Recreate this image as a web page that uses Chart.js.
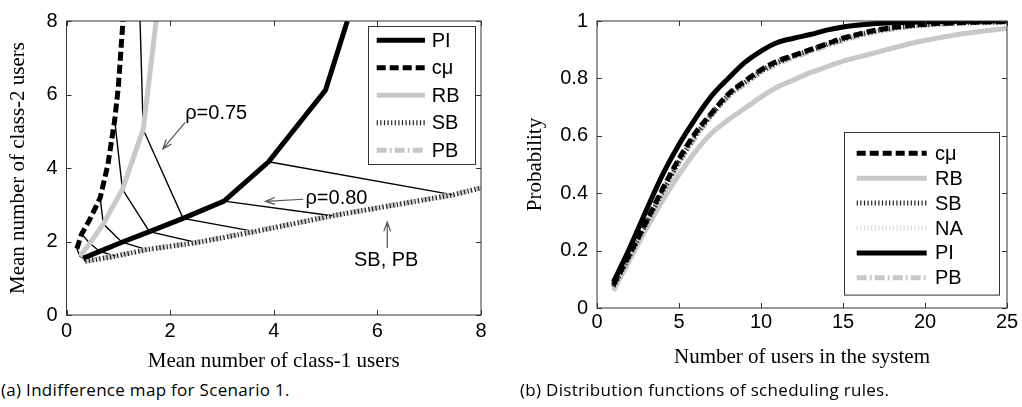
<!DOCTYPE html>
<html>
<head>
<meta charset="utf-8">
<script src="https://cdn.jsdelivr.net/npm/chart.js@4.4.1/dist/chart.umd.min.js"></script>
<style>
  body { margin: 0; background: #fff; }
  #page { position: relative; width: 1022px; height: 407px; overflow: hidden; }
  .box { position: absolute; top: 0; height: 375px; }
  .cap { position: absolute; top: 378px; font-family: "Open Sans", sans-serif; font-size: 17px; letter-spacing: 0.3px; color: #000; white-space: nowrap; }
</style>
</head>
<body>
<div id="page">
  <div class="box" style="left:0;width:500px"><canvas id="mapChart"></canvas></div>
  <div class="box" style="left:495px;width:527px"><canvas id="cdfChart"></canvas></div>
  <div class="cap" style="left:1px">(a) Indifference map for Scenario 1.</div>
  <div class="cap" style="left:520px">(b) Distribution functions of scheduling rules.</div>
</div>
<script>
// (a) mean number of class-1 / class-2 users, one curve per rule
const piCurve  = [[0.33,1.55],[0.64,1.73],[1.07,1.98],[1.6,2.27],[2.25,2.63],[3.04,3.1],[3.9,4.17],[5.0,6.12],[5.42,8]];
const cmuCurve = [[0.2,1.8],[0.29,2.2],[0.45,2.6],[0.65,3.19],[0.8,4.1],[0.93,5.3],[1.0,6.2],[1.09,8]];
const rbCurve  = [[0.26,1.6],[0.45,1.95],[0.71,2.48],[1.08,3.42],[1.48,5.05],[1.73,8]];
const sbCurve  = [[0.36,1.46],[0.95,1.6],[1.55,1.78],[2.52,1.97],[3.64,2.27],[5.13,2.7],[7.47,3.27],[8,3.46]];
const pbCurve  = [[0.36,1.47],[0.95,1.61],[1.55,1.78],[2.52,1.98],[3.64,2.28],[5.13,2.7],[7.47,3.28],[8,3.46]];

// thin lines joining the rules at the same load
const isoLines = [
  [[0.2,1.8],[0.26,1.6],[0.33,1.55],[0.36,1.46]],
  [[0.29,2.2],[0.45,1.95],[0.64,1.73],[0.95,1.6]],
  [[0.65,3.19],[0.71,2.48],[1.07,1.98],[1.55,1.78]],
  [[0.93,5.3],[1.08,3.42],[1.6,2.27],[2.52,1.97]],
  [[1.42,8],[1.48,5.05],[2.25,2.63],[3.64,2.27]],
  [[3.04,3.1],[5.13,2.7]],
  [[3.9,4.17],[7.47,3.27]]
];
const mapTicks = [0, 2, 4, 6, 8];

// (b) distribution function of the number of users in the system
const users   = [1,2,3,4,5,6,7,8,9,10,11,12,13,14,15,16,17,18,19,20,21,22,23,24,25];
const piProb  = [0.09,0.21,0.34,0.465,0.57,0.66,0.74,0.80,0.855,0.895,0.925,0.94,0.953,0.968,0.979,0.986,0.991,0.994,0.996,0.997,0.998,0.999,0.999,1.0,1.0];
const cmuProb = [0.08,0.188,0.30,0.415,0.52,0.61,0.68,0.745,0.79,0.83,0.86,0.88,0.90,0.92,0.94,0.955,0.968,0.977,0.984,0.989,0.992,0.994,0.996,0.997,0.998];
const sbProb  = [0.075,0.183,0.295,0.405,0.51,0.60,0.675,0.74,0.785,0.825,0.855,0.878,0.898,0.918,0.936,0.952,0.965,0.975,0.982,0.987,0.991,0.993,0.995,0.996,0.997];
const naProb  = [0.078,0.186,0.298,0.41,0.515,0.605,0.678,0.742,0.788,0.828,0.858,0.88,0.9,0.92,0.938,0.954,0.967,0.976,0.983,0.988,0.991,0.993,0.995,0.996,0.997];
const pbProb  = [0.07,0.178,0.29,0.40,0.505,0.595,0.67,0.735,0.78,0.82,0.85,0.873,0.893,0.913,0.932,0.948,0.962,0.972,0.98,0.985,0.989,0.992,0.994,0.995,0.996];
const rbProb  = [0.06,0.168,0.275,0.375,0.465,0.545,0.61,0.655,0.695,0.735,0.77,0.795,0.82,0.84,0.86,0.875,0.89,0.905,0.92,0.932,0.943,0.953,0.961,0.968,0.974];

const GRAY = "#c8c8c8";
const styles = {
  "PI": { borderColor: "#000", borderWidth: 5, borderDash: [] },
  "cμ": { borderColor: "#000", borderWidth: 5, borderDash: [9, 4] },
  "RB": { borderColor: GRAY, borderWidth: 5, borderDash: [] },
  "SB": { borderColor: "#222", borderWidth: 5, borderDash: [1.2, 2.4] },
  "NA": { borderColor: "#dcdcdc", borderWidth: 5, borderDash: [1.2, 2.4] },
  "PB": { borderColor: GRAY, borderWidth: 5, borderDash: [10, 3, 2, 3] }
};
const tickFont = { family: '"Liberation Sans", Arial', size: 20 };
const titleFont = { family: '"Liberation Serif", "Times New Roman"', size: 21 };

function pts(pairs) { return pairs.map(([x, y]) => ({ x, y })); }
function rule(label, data) {
  return Object.assign({ label, data, pointRadius: 0, fill: false, tension: 0, borderCapStyle: "butt" }, styles[label]);
}

// box around the plot with ticks pointing inwards
const framePlugin = {
  id: "frame",
  afterDatasetsDraw(chart) {
    const { ctx, chartArea: a, scales: { x, y } } = chart;
    ctx.save();
    ctx.strokeStyle = "#333";
    ctx.lineWidth = 1;
    ctx.setLineDash([]);
    ctx.strokeRect(a.left, a.top, a.width, a.height);
    ctx.beginPath();
    x.ticks.forEach(t => {
      const p = Math.round(x.getPixelForValue(t.value)) + 0.5;
      ctx.moveTo(p, a.bottom); ctx.lineTo(p, a.bottom - 5);
      ctx.moveTo(p, a.top); ctx.lineTo(p, a.top + 5);
    });
    y.ticks.forEach(t => {
      const p = Math.round(y.getPixelForValue(t.value)) + 0.5;
      ctx.moveTo(a.left, p); ctx.lineTo(a.left + 5, p);
      ctx.moveTo(a.right, p); ctx.lineTo(a.right - 5, p);
    });
    ctx.stroke();
    ctx.restore();
  }
};

const legendPlugin = {
  id: "ruleLegend",
  afterDraw(chart, args, o) {
    const { ctx, chartArea: a } = chart;
    const left = a.right - o.right - o.width;
    const top = o.top != null ? a.top + o.top : a.bottom - o.bottom - o.height;
    ctx.save();
    ctx.fillStyle = "#fff";
    ctx.fillRect(left, top, o.width, o.height);
    ctx.strokeStyle = "#333";
    ctx.lineWidth = 1;
    ctx.strokeRect(Math.round(left) + 0.5, Math.round(top) + 0.5, o.width, o.height);
    o.items.forEach((name, i) => {
      const ds = chart.data.datasets.find(d => d.label === name);
      const y = top + o.firstRow + i * o.rowGap;
      ctx.beginPath();
      ctx.strokeStyle = ds.borderColor;
      ctx.lineWidth = ds.borderWidth;
      ctx.setLineDash(ds.borderDash);
      ctx.moveTo(left + o.lineFrom, y);
      ctx.lineTo(left + o.lineTo, y);
      ctx.stroke();
      ctx.setLineDash([]);
      ctx.fillStyle = "#000";
      ctx.font = '20px "Liberation Sans", Arial';
      ctx.textBaseline = "middle";
      ctx.fillText(name, left + o.textX, y + 1);
    });
    ctx.restore();
  }
};

const notesPlugin = {
  id: "notes",
  afterDraw(chart, args, o) {
    const { ctx, scales: { x, y } } = chart;
    ctx.save();
    ctx.strokeStyle = "#555";
    ctx.lineWidth = 1.2;
    (o.arrows || []).forEach(([x0, y0, x1, y1]) => {
      const ax = x.getPixelForValue(x0), ay = y.getPixelForValue(y0);
      const bx = x.getPixelForValue(x1), by = y.getPixelForValue(y1);
      const ang = Math.atan2(by - ay, bx - ax);
      ctx.beginPath();
      ctx.moveTo(ax, ay); ctx.lineTo(bx, by);
      ctx.moveTo(bx - 10 * Math.cos(ang - 0.35), by - 10 * Math.sin(ang - 0.35));
      ctx.lineTo(bx, by);
      ctx.lineTo(bx - 10 * Math.cos(ang + 0.35), by - 10 * Math.sin(ang + 0.35));
      ctx.stroke();
    });
    ctx.fillStyle = "#000";
    ctx.font = '20px "Liberation Sans", Arial';
    ctx.textAlign = "center";
    ctx.textBaseline = "middle";
    (o.labels || []).forEach(l => ctx.fillText(l.text, x.getPixelForValue(l.x), y.getPixelForValue(l.y)));
    ctx.restore();
  }
};

function axis(min, max, step, title, isY, fit, pad, titlePad) {
  return {
    type: "linear", min, max,
    grid: { display: false, drawTicks: false },
    border: { display: false },
    ticks: { stepSize: step, font: tickFont, color: "#000", padding: pad, maxRotation: 0,
             callback: v => String(Number(v.toFixed(1))) },
    title: { display: true, text: title, font: titleFont, color: "#000", padding: titlePad },
    afterFit: s => { if (isY) s.width = fit; else s.height = fit; }
  };
}

// (a) indifference map
const mapSets = [
  rule("PI", pts(piCurve)),
  rule("cμ", pts(cmuCurve)),
  rule("SB", pts(sbCurve)),
  rule("PB", pts(pbCurve)),
  rule("RB", pts(rbCurve))
];
isoLines.forEach(line => mapSets.push({
  label: "", data: pts(line), borderColor: "#000", borderWidth: 1.4, pointRadius: 0, fill: false, tension: 0
}));

new Chart(document.getElementById("mapChart"), {
  type: "line",
  data: { datasets: mapSets },
  options: {
    responsive: true, maintainAspectRatio: false, animation: false, events: [],
    layout: { padding: { top: 14, right: 19, left: 0, bottom: 0 } },
    scales: {
      x: axis(mapTicks[0], mapTicks[mapTicks.length - 1], 2, "Mean number of class-1 users", false, 60, 4, { top: 0, bottom: 1.4 }),
      y: axis(mapTicks[0], mapTicks[mapTicks.length - 1], 2, "Mean number of class-2 users", true, 66.5, 9, { top: 5.4, bottom: 0 })
    },
    plugins: {
      legend: { display: false }, tooltip: { enabled: false },
      ruleLegend: { items: ["PI", "cμ", "RB", "SB", "PB"], right: 6, top: 5, width: 107, height: 138,
                    firstRow: 14.3, rowGap: 27.5, lineFrom: 8.7, lineTo: 57, textX: 63.7 },
      notes: {
        labels: [{ text: "ρ=0.75", x: 2.89, y: 5.48 }, { text: "ρ=0.80", x: 5.21, y: 3.16 }, { text: "SB, PB", x: 6.17, y: 1.49 }],
        arrows: [[2.29, 5.24, 1.86, 4.52], [4.57, 3.15, 3.84, 3.09], [6.19, 1.82, 6.19, 2.53]]
      }
    }
  },
  plugins: [framePlugin, notesPlugin, legendPlugin]
});

// (b) distribution functions
const xy = vals => users.map((u, i) => ({ x: u, y: vals[i] }));
const cdfSets = [
  rule("PI", xy(piProb)),
  rule("cμ", xy(cmuProb)),
  rule("SB", xy(sbProb)),
  rule("NA", xy(naProb)),
  rule("PB", xy(pbProb)),
  rule("RB", xy(rbProb))
];
cdfSets.forEach(d => { d.cubicInterpolationMode = "monotone"; });

new Chart(document.getElementById("cdfChart"), {
  type: "line",
  data: { datasets: cdfSets },
  options: {
    responsive: true, maintainAspectRatio: false, animation: false, events: [],
    layout: { padding: { top: 14, right: 15, left: 0, bottom: 0 } },
    scales: {
      x: axis(0, 25, 5, "Number of users in the system", false, 67, 2, { top: 0, bottom: 5.4 }),
      y: axis(0, 1, 0.2, "Probability", true, 102, 9, { top: 27.4, bottom: 0 })
    },
    plugins: {
      legend: { display: false }, tooltip: { enabled: false },
      ruleLegend: { items: ["cμ", "RB", "SB", "NA", "PI", "PB"], right: 8, bottom: 13.7, width: 155, height: 162.6,
                    firstRow: 21.6, rowGap: 24.9, lineFrom: 12.7, lineTo: 82.7, textX: 91 }
    }
  },
  plugins: [framePlugin, legendPlugin]
});
</script>
</body>
</html>
